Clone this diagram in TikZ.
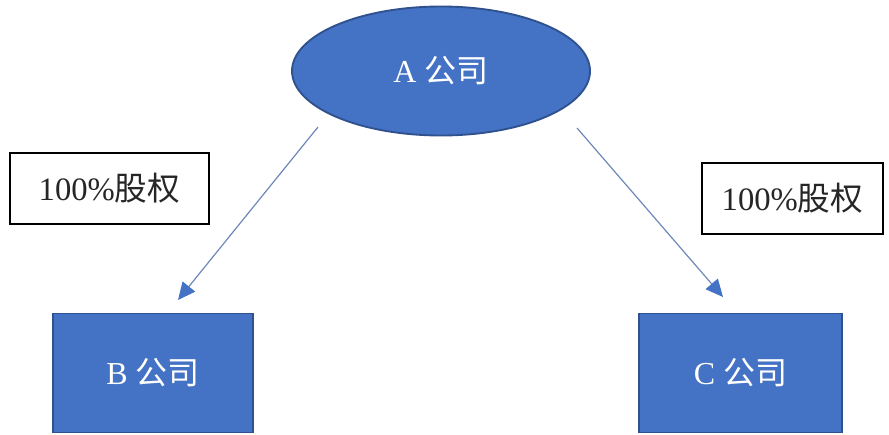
\documentclass[tikz,border=0pt]{standalone}
\usepackage{fontspec}
\setmainfont{Liberation Serif}
\newfontfamily\cjk{Noto Sans CJK SC}
\usetikzlibrary{shapes.geometric,arrows.meta}
\definecolor{fillblue}{RGB}{68,114,196}
\definecolor{edgeblue}{RGB}{47,82,143}
\definecolor{linkblue}{RGB}{110,135,185}
\tikzset{
  company/.style={draw=edgeblue, line width=1.4pt, fill=fillblue, text=white, inner sep=0pt,
    font=\fontsize{24}{28}\selectfont},
  sharebox/.style={draw=black, line width=1pt, fill=white, inner sep=0pt, text=black!85,
    font=\fontsize{24.5}{29}\selectfont},
  link/.style={draw=linkblue, line width=0.9pt, -{Triangle[length=13pt,width=12pt,fill=fillblue,color=fillblue]}}
}
\begin{document}
\begin{tikzpicture}[x=0.75pt,y=-0.75pt]
\useasboundingbox (0,0) rectangle (889,435);
\node[company, ellipse, minimum width=298*0.75pt, minimum height=129*0.75pt] (A) at (441,71) {A {\cjk 公司}};
\node[company, rectangle, minimum width=200*0.75pt, minimum height=119*0.75pt] (B) at (153,373) {B {\cjk 公司}};
\node[company, rectangle, minimum width=203*0.75pt, minimum height=119*0.75pt] (C) at (740.5,373) {C {\cjk 公司}};
\node[sharebox, minimum width=199*0.75pt, minimum height=71*0.75pt] (L1) at (109.5,188.5) {100\%{\cjk 股权}};
\node[sharebox, minimum width=181*0.75pt, minimum height=71*0.75pt] (L2) at (792.5,198.5) {100\%{\cjk 股权}};
\coordinate (s1) at (318,127);
\coordinate (t1) at (178,300);
\coordinate (s2) at (577,128);
\coordinate (t2) at (723,297);
\draw[link] (s1) -- (t1);
\draw[link] (s2) -- (t2);
\end{tikzpicture}
\end{document}
